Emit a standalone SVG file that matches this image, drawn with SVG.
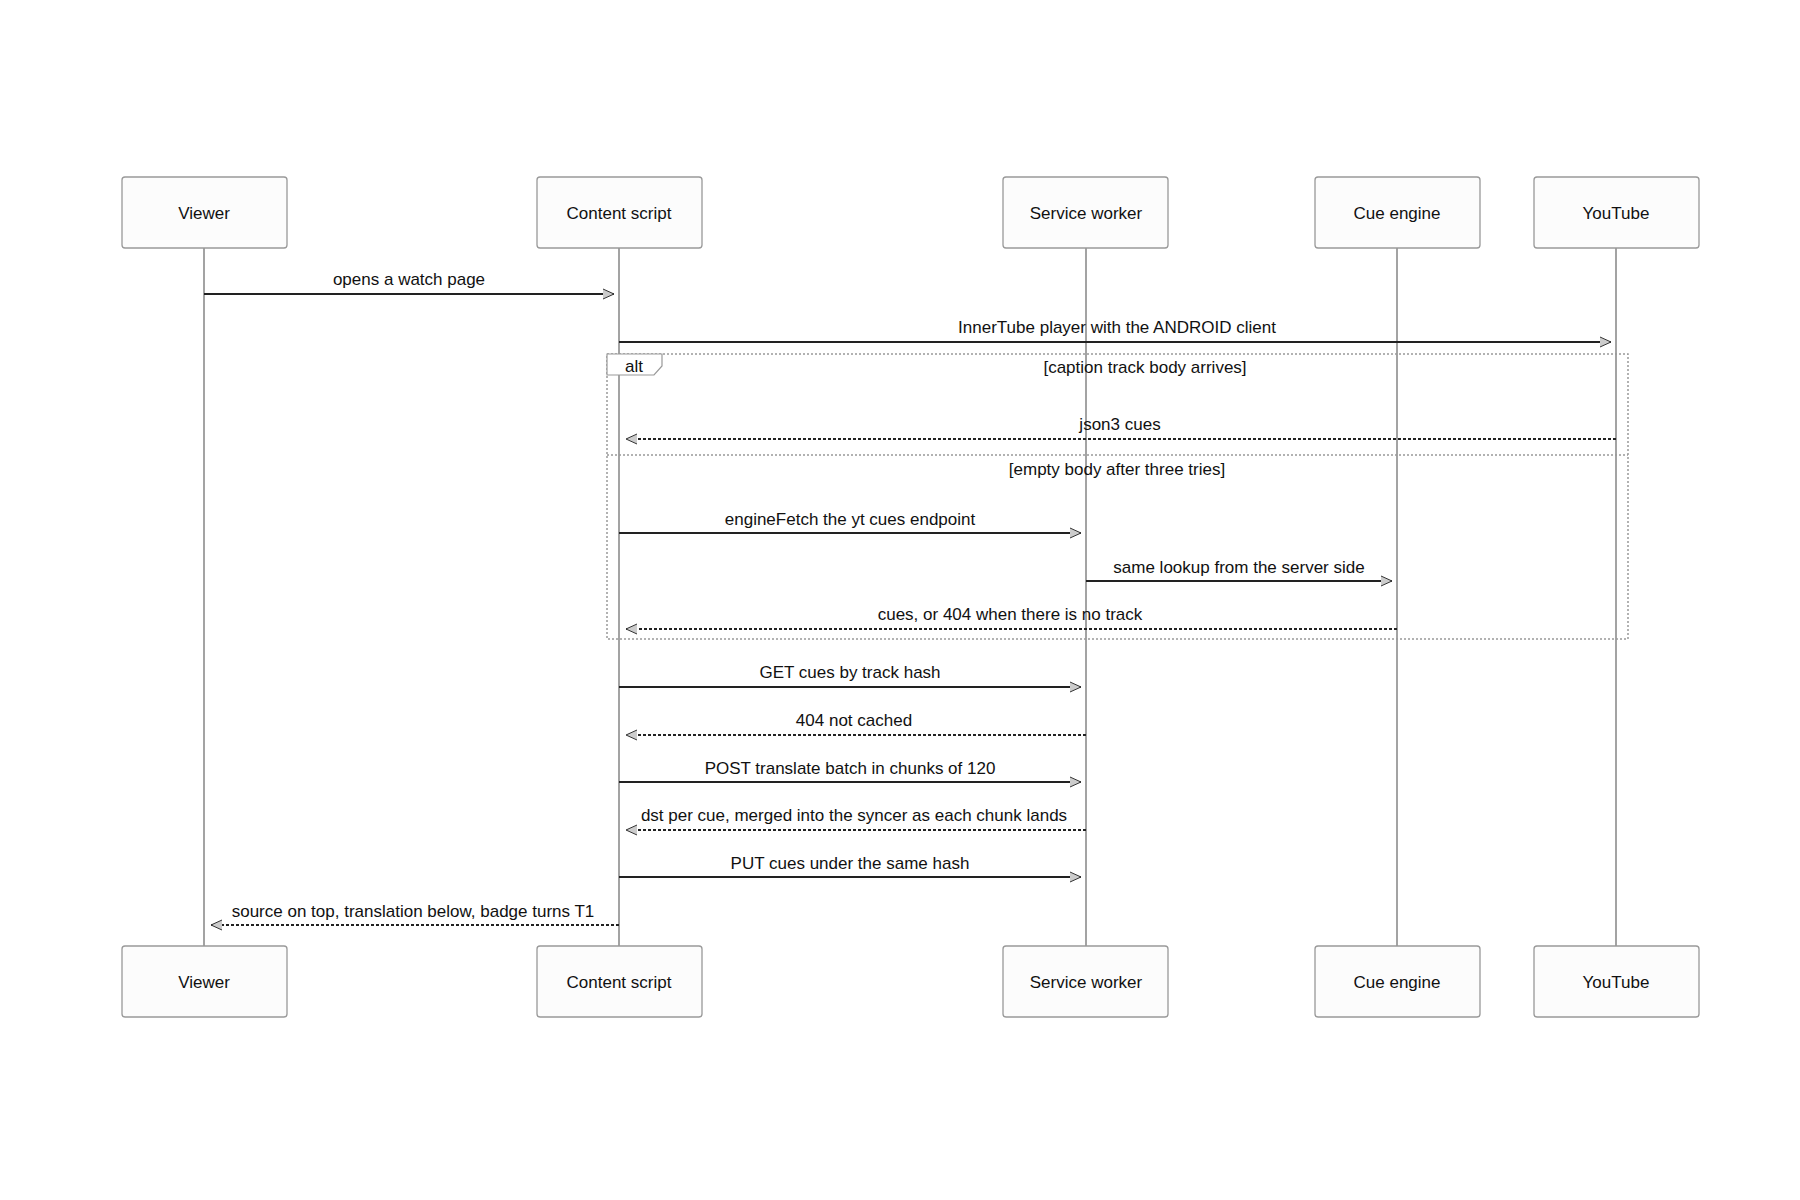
<svg xmlns="http://www.w3.org/2000/svg" width="1800" height="1200" viewBox="0 0 1800 1200">
<defs>
<style>
text{font-family:"Liberation Sans",Arial,sans-serif;font-size:17px;fill:#111;text-anchor:middle;dominant-baseline:central}
.box{fill:#fcfcfc;stroke:#999;stroke-width:1.3}
.life{stroke:#999;stroke-width:1.8}
.msg{stroke:#222;stroke-width:1.8;fill:none}
.dash{stroke-dasharray:3,2}
.frame{fill:none;stroke:#999;stroke-width:1.5;stroke-dasharray:2,2}
</style>
<marker id="ah" markerWidth="14" markerHeight="12" refX="12" refY="6" orient="auto" markerUnits="userSpaceOnUse">
<path d="M1,1 L12,6 L1,11" fill="#ccc" stroke="#333" stroke-width="1"/>
</marker>
</defs>
<rect width="1800" height="1200" fill="#fff"/>
<g id="lifelines">
<line class="life" x1="204" y1="248" x2="204" y2="946"/>
<line class="life" x1="619" y1="248" x2="619" y2="946"/>
<line class="life" x1="1086" y1="248" x2="1086" y2="946"/>
<line class="life" x1="1397" y1="248" x2="1397" y2="946"/>
<line class="life" x1="1616" y1="248" x2="1616" y2="946"/>
</g>
<g id="viewer"><rect class="box" x="122" y="177" width="165" height="71" rx="3"/><text x="204" y="213">Viewer</text><rect class="box" x="122" y="946" width="165" height="71" rx="3"/><text x="204" y="982">Viewer</text></g>
<g id="content"><rect class="box" x="537" y="177" width="165" height="71" rx="3"/><text x="619" y="213">Content script</text><rect class="box" x="537" y="946" width="165" height="71" rx="3"/><text x="619" y="982">Content script</text></g>
<g id="worker"><rect class="box" x="1003" y="177" width="165" height="71" rx="3"/><text x="1086" y="213">Service worker</text><rect class="box" x="1003" y="946" width="165" height="71" rx="3"/><text x="1086" y="982">Service worker</text></g>
<g id="engine"><rect class="box" x="1315" y="177" width="165" height="71" rx="3"/><text x="1397" y="213">Cue engine</text><rect class="box" x="1315" y="946" width="165" height="71" rx="3"/><text x="1397" y="982">Cue engine</text></g>
<g id="youtube"><rect class="box" x="1534" y="177" width="165" height="71" rx="3"/><text x="1616" y="213">YouTube</text><rect class="box" x="1534" y="946" width="165" height="71" rx="3"/><text x="1616" y="982">YouTube</text></g>
<g id="alt-frame">
<rect class="frame" x="607" y="354" width="1021" height="285"/>
<path d="M607,354 H662 V366 L654,375 H607 Z" fill="#fff" stroke="#999" stroke-width="1.2"/>
<text x="634" y="366">alt</text>
<text x="1145" y="367">[caption track body arrives]</text>
<line class="frame" x1="607" y1="455" x2="1628" y2="455"/>
<text x="1117" y="469">[empty body after three tries]</text>
</g>
<g id="connectors">
<line class="msg" x1="204" y1="294" x2="614" y2="294" marker-end="url(#ah)"/>
<text x="409" y="279">opens a watch page</text>
<line class="msg" x1="619" y1="342" x2="1611" y2="342" marker-end="url(#ah)"/>
<text x="1117" y="327">InnerTube player with the ANDROID client</text>
<line class="msg dash" x1="1616" y1="439" x2="626" y2="439" marker-end="url(#ah)"/>
<text x="1120" y="424">json3 cues</text>
<line class="msg" x1="619" y1="533" x2="1081" y2="533" marker-end="url(#ah)"/>
<text x="850" y="519">engineFetch the yt cues endpoint</text>
<line class="msg" x1="1086" y1="581" x2="1392" y2="581" marker-end="url(#ah)"/>
<text x="1239" y="567">same lookup from the server side</text>
<line class="msg dash" x1="1397" y1="629" x2="626" y2="629" marker-end="url(#ah)"/>
<text x="1010" y="614">cues, or 404 when there is no track</text>
<line class="msg" x1="619" y1="687" x2="1081" y2="687" marker-end="url(#ah)"/>
<text x="850" y="672">GET cues by track hash</text>
<line class="msg dash" x1="1086" y1="735" x2="626" y2="735" marker-end="url(#ah)"/>
<text x="854" y="720">404 not cached</text>
<line class="msg" x1="619" y1="782" x2="1081" y2="782" marker-end="url(#ah)"/>
<text x="850" y="768">POST translate batch in chunks of 120</text>
<line class="msg dash" x1="1086" y1="830" x2="626" y2="830" marker-end="url(#ah)"/>
<text x="854" y="815">dst per cue, merged into the syncer as each chunk lands</text>
<line class="msg" x1="619" y1="877" x2="1081" y2="877" marker-end="url(#ah)"/>
<text x="850" y="863">PUT cues under the same hash</text>
<line class="msg dash" x1="619" y1="925" x2="211" y2="925" marker-end="url(#ah)"/>
<text x="413" y="911">source on top, translation below, badge turns T1</text>
</g>
</svg>
